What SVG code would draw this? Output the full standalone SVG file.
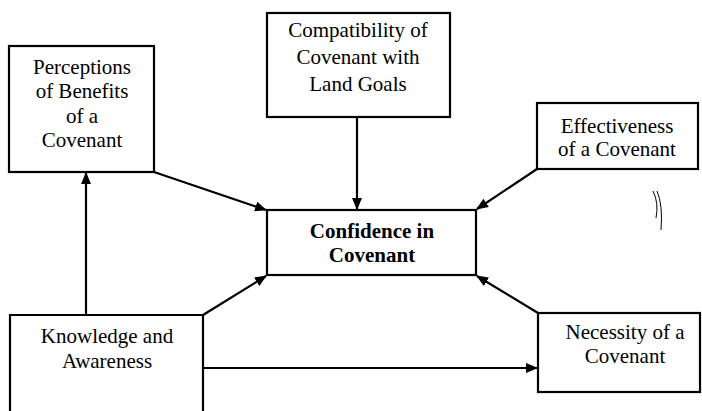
<svg xmlns="http://www.w3.org/2000/svg" width="702" height="411" viewBox="0 0 702 411">
<style>
.box{fill:#fff;stroke:#000;stroke-width:2.2}
.t{font-family:"Liberation Serif","Times New Roman",serif;font-size:21px;fill:#000;text-anchor:middle}
.b{font-weight:bold}
.c{fill:none;stroke:#000;stroke-width:2.2}
</style>
<defs>
<marker id="ah" markerUnits="userSpaceOnUse" markerWidth="12" markerHeight="10" refX="11" refY="5" orient="auto">
<path d="M0,0 L12,5 L0,10 z" fill="#000"/>
</marker>
</defs>
<rect width="702" height="411" fill="#fff"/>
<g id="connectors">
<line class="c" x1="86" y1="315" x2="86" y2="173" marker-end="url(#ah)"/>
<line class="c" x1="154" y1="172" x2="266" y2="210" marker-end="url(#ah)"/>
<line class="c" x1="357" y1="117" x2="357" y2="209" marker-end="url(#ah)"/>
<line class="c" x1="537" y1="169" x2="477" y2="209" marker-end="url(#ah)"/>
<line class="c" x1="203" y1="315" x2="266" y2="276" marker-end="url(#ah)"/>
<line class="c" x1="538" y1="313" x2="477" y2="276" marker-end="url(#ah)"/>
<line class="c" x1="203" y1="368" x2="537" y2="368" marker-end="url(#ah)"/>
</g>
<g id="perceptions">
<rect class="box" x="9" y="46" width="145" height="126"/>
<text class="t" x="82" y="74">Perceptions</text>
<text class="t" x="82" y="98">of Benefits</text>
<text class="t" x="82" y="123">of a</text>
<text class="t" x="82" y="147">Covenant</text>
</g>
<g id="compatibility">
<rect class="box" x="267" y="13" width="183" height="104"/>
<text class="t" x="358" y="37">Compatibility of</text>
<text class="t" x="358" y="64">Covenant with</text>
<text class="t" x="358" y="91">Land Goals</text>
</g>
<g id="effectiveness">
<rect class="box" x="537" y="103" width="161" height="66"/>
<text class="t" x="617" y="133">Effectiveness</text>
<text class="t" x="617" y="156">of a Covenant</text>
</g>
<g id="confidence">
<rect class="box" x="267" y="210" width="209" height="65"/>
<text class="t b" x="372" y="238">Confidence in</text>
<text class="t b" x="372" y="262">Covenant</text>
</g>
<g id="knowledge">
<path class="c" d="M10,411 V315 H203 V411"/>
<text class="t" x="107" y="343">Knowledge and</text>
<text class="t" x="107" y="368">Awareness</text>
</g>
<g id="necessity">
<rect class="box" x="538" y="313" width="162" height="79"/>
<text class="t" x="625" y="339">Necessity of a</text>
<text class="t" x="625" y="363">Covenant</text>
</g>
<g id="mark">
<path d="M653,191 Q659,203 656,218" fill="none" stroke="#000" stroke-width="1"/>
<path d="M657,191 Q663,205 661,230" fill="none" stroke="#000" stroke-width="1"/>
</g>
</svg>
